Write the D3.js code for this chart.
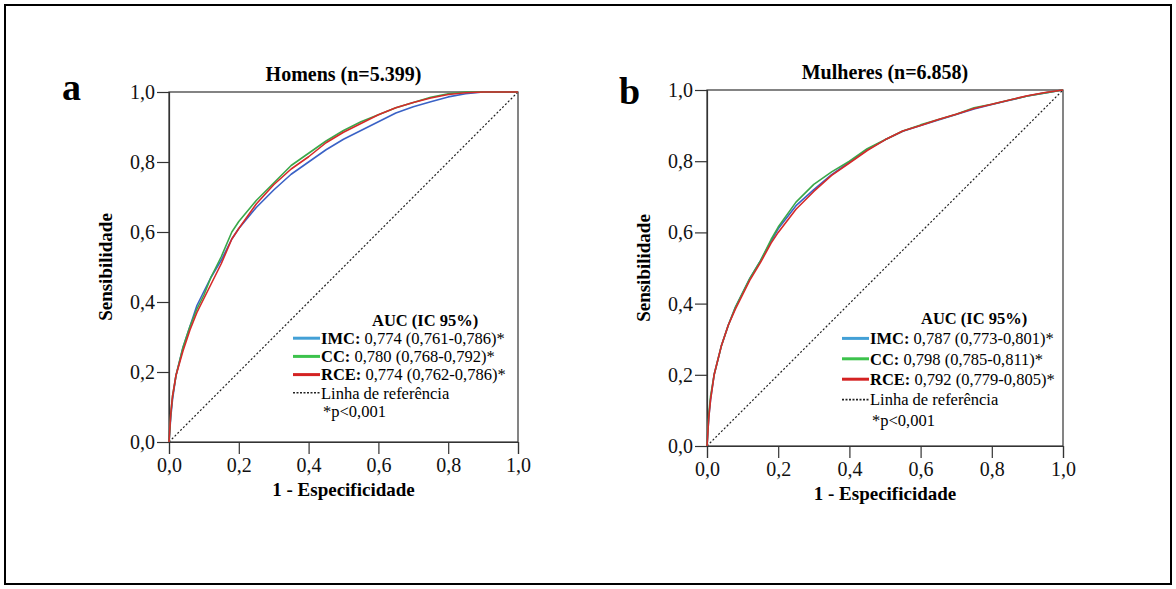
<!DOCTYPE html>
<html>
<head>
<meta charset="utf-8">
<script src="https://cdn.jsdelivr.net/npm/d3@7"></script>
<style>
  body { margin: 0; background: #fff; }
  svg { display: block; font-family: "Liberation Serif", "DejaVu Serif", serif; }
</style>
</head>
<body>
<svg id="chart" width="1176" height="589"></svg>
<script>
// ---- data ----
const tickValues = [0, 0.2, 0.4, 0.6, 0.8, 1.0];
const seriesNames = ["IMC", "CC", "RCE"];
const aucHomens = ["0,774 (0,761-0,786)*", "0,780 (0,768-0,792)*", "0,774 (0,762-0,786)*"];
const aucMulheres = ["0,787 (0,773-0,801)*", "0,798 (0,785-0,811)*", "0,792 (0,779-0,805)*"];

// [1 - especificidade, sensibilidade]
const homensIMC = [[0,0],[0.005,0.07],[0.01,0.12],[0.02,0.19],[0.04,0.27],[0.06,0.33],[0.08,0.39],[0.1,0.43],[0.12,0.47],[0.15,0.52],[0.18,0.58],[0.2,0.61],[0.25,0.67],[0.3,0.72],[0.35,0.765],[0.4,0.8],[0.45,0.835],[0.5,0.865],[0.55,0.89],[0.6,0.915],[0.65,0.94],[0.7,0.958],[0.75,0.972],[0.8,0.986],[0.85,0.995],[0.9,1],[1,1]];
const homensCC = [[0,0],[0.005,0.08],[0.01,0.13],[0.02,0.19],[0.04,0.27],[0.06,0.33],[0.08,0.38],[0.1,0.42],[0.12,0.47],[0.15,0.53],[0.18,0.6],[0.2,0.63],[0.25,0.69],[0.3,0.74],[0.35,0.79],[0.4,0.825],[0.45,0.86],[0.5,0.89],[0.55,0.915],[0.6,0.935],[0.65,0.955],[0.7,0.97],[0.75,0.985],[0.8,0.995],[0.85,1],[1,1]];
const homensRCE = [[0,0],[0.005,0.08],[0.01,0.13],[0.02,0.19],[0.04,0.26],[0.06,0.32],[0.08,0.37],[0.1,0.41],[0.12,0.45],[0.15,0.51],[0.18,0.58],[0.2,0.61],[0.25,0.68],[0.3,0.735],[0.35,0.78],[0.4,0.815],[0.45,0.855],[0.5,0.885],[0.55,0.91],[0.6,0.935],[0.65,0.955],[0.7,0.97],[0.75,0.983],[0.8,0.993],[0.85,0.998],[0.9,1],[1,1]];

const mulheresIMC = [[0,0],[0.005,0.08],[0.01,0.13],[0.02,0.2],[0.04,0.28],[0.06,0.34],[0.08,0.39],[0.1,0.43],[0.12,0.47],[0.15,0.52],[0.18,0.575],[0.2,0.61],[0.25,0.675],[0.3,0.72],[0.35,0.762],[0.4,0.797],[0.45,0.832],[0.5,0.86],[0.55,0.884],[0.6,0.9],[0.65,0.916],[0.7,0.931],[0.75,0.947],[0.8,0.959],[0.85,0.971],[0.9,0.983],[0.95,0.992],[1,1]];
const mulheresCC = [[0,0],[0.005,0.09],[0.01,0.14],[0.02,0.2],[0.04,0.28],[0.06,0.34],[0.08,0.39],[0.1,0.43],[0.12,0.47],[0.15,0.52],[0.18,0.58],[0.2,0.615],[0.25,0.685],[0.3,0.735],[0.35,0.77],[0.4,0.8],[0.45,0.835],[0.5,0.86],[0.55,0.885],[0.6,0.902],[0.65,0.917],[0.7,0.932],[0.75,0.95],[0.8,0.96],[0.85,0.972],[0.9,0.983],[0.95,0.992],[1,1]];
const mulheresRCE = [[0,0],[0.005,0.08],[0.01,0.13],[0.02,0.2],[0.04,0.28],[0.06,0.34],[0.08,0.385],[0.1,0.425],[0.12,0.465],[0.15,0.515],[0.18,0.57],[0.2,0.6],[0.25,0.665],[0.3,0.715],[0.35,0.76],[0.4,0.795],[0.45,0.83],[0.5,0.86],[0.55,0.885],[0.6,0.9],[0.65,0.917],[0.7,0.932],[0.75,0.948],[0.8,0.96],[0.85,0.972],[0.9,0.984],[0.95,0.993],[1,1]];

const curveColors = ["#3a62c6", "#3aa84a", "#d62a2a"];
const legendColors = ["#43a0d6", "#3cc24c", "#d42222"];

const svg = d3.select("#chart");

// outer frame
svg.append("rect")
  .attr("x", 5).attr("y", 5)
  .attr("width", 1166).attr("height", 579)
  .attr("fill", "none").attr("stroke", "#000").attr("stroke-width", 2);

const fmt = d => d.toFixed(1).replace(".", ",");

function drawPanel(cfg) {
  const x = d3.scaleLinear().domain([0, 1]).range([cfg.left, cfg.right]);
  const y = d3.scaleLinear().domain([0, 1]).range([cfg.bottom, cfg.top]);
  const g = svg.append("g");

  // box
  g.append("rect")
    .attr("x", x(0)).attr("y", y(1))
    .attr("width", x(1) - x(0)).attr("height", y(0) - y(1))
    .attr("fill", "none").attr("stroke", "#333").attr("stroke-width", 1.2);

  const xAxis = g.append("g")
    .attr("transform", `translate(0,${y(0)})`)
    .call(d3.axisBottom(x).tickValues(tickValues).tickFormat(fmt).tickSize(12).tickPadding(4));
  const yAxis = g.append("g")
    .attr("transform", `translate(${x(0)},0)`)
    .call(d3.axisLeft(y).tickValues(tickValues).tickFormat(fmt).tickSize(12).tickPadding(2));
  [xAxis, yAxis].forEach(a => {
    a.select(".domain").attr("stroke", "#333").attr("stroke-width", 1.2);
    a.selectAll(".tick line").attr("stroke", "#333").attr("stroke-width", 1.2);
    a.selectAll(".tick text").attr("fill", "#111").style("font-size", "20px").style("font-family", "Liberation Serif");
  });

  // reference diagonal
  g.append("line")
    .attr("x1", x(0)).attr("y1", y(0)).attr("x2", x(1)).attr("y2", y(1))
    .attr("stroke", "#222").attr("stroke-width", 1.2).attr("stroke-dasharray", "2,2");

  const line = d3.line().x(d => x(d[0])).y(d => y(d[1]));
  cfg.series.forEach((s, i) => {
    g.append("path").datum(s)
      .attr("d", line)
      .attr("fill", "none")
      .attr("stroke", curveColors[i])
      .attr("stroke-width", 1.6)
      .attr("stroke-linejoin", "round");
  });

  // titles
  g.append("text")
    .attr("x", (x(0) + x(1)) / 2).attr("y", cfg.top - 11)
    .attr("text-anchor", "middle")
    .style("font-size", "20px").style("font-weight", "bold")
    .text(cfg.title);
  g.append("text")
    .attr("x", (x(0) + x(1)) / 2).attr("y", y(0) + 54)
    .attr("text-anchor", "middle")
    .style("font-size", "19px").style("font-weight", "bold")
    .text("1 - Especificidade");
  g.append("text")
    .attr("transform", `translate(${cfg.ylabX},${(y(0) + y(1)) / 2}) rotate(-90)`)
    .attr("text-anchor", "middle")
    .style("font-size", "19px").style("font-weight", "bold")
    .text("Sensibilidade");
  g.append("text")
    .attr("x", cfg.letterX).attr("y", cfg.letterY)
    .style("font-size", "38px").style("font-weight", "bold")
    .text(cfg.letter);

  // legend
  const lg = g.append("g").style("font-size", "16.5px");
  const textX = cfg.legX + 28;
  lg.append("text")
    .attr("x", cfg.legX + 79).attr("y", cfg.legY)
    .attr("dy", "0.35em")
    .style("font-weight", "bold")
    .text("AUC (IC 95%)");
  seriesNames.forEach((name, i) => {
    const yy = cfg.legY + cfg.legStep * (i + 1);
    lg.append("line")
      .attr("x1", cfg.legX).attr("x2", cfg.legX + 27)
      .attr("y1", yy).attr("y2", yy)
      .attr("stroke", legendColors[i]).attr("stroke-width", 3);
    const t = lg.append("text").attr("x", textX).attr("y", yy).attr("dy", "0.35em");
    t.append("tspan").style("font-weight", "bold").text(name + ":");
    t.append("tspan").text(" " + cfg.auc[i]);
  });
  const yRef = cfg.legY + cfg.legStep * 4;
  lg.append("line")
    .attr("x1", cfg.legX).attr("x2", cfg.legX + 27)
    .attr("y1", yRef).attr("y2", yRef)
    .attr("stroke", "#222").attr("stroke-width", 1.6).attr("stroke-dasharray", "2,1.5");
  lg.append("text").attr("x", textX).attr("y", yRef).attr("dy", "0.35em").text("Linha de referência");
  lg.append("text").attr("x", textX + 2).attr("y", cfg.legY + cfg.legStep * 5).attr("dy", "0.35em").text("*p<0,001");
}

drawPanel({
  left: 169, right: 518, top: 92, bottom: 442,
  title: "Homens (n=5.399)", letter: "a", letterX: 62, letterY: 100, ylabX: 112,
  series: [homensIMC, homensCC, homensRCE], auc: aucHomens,
  legX: 293, legY: 320, legStep: 18.2
});
drawPanel({
  left: 707, right: 1063, top: 90, bottom: 446,
  title: "Mulheres (n=6.858)", letter: "b", letterX: 619, letterY: 104, ylabX: 650,
  series: [mulheresIMC, mulheresCC, mulheresRCE], auc: aucMulheres,
  legX: 842, legY: 318, legStep: 20.4
});
</script>
</body>
</html>
